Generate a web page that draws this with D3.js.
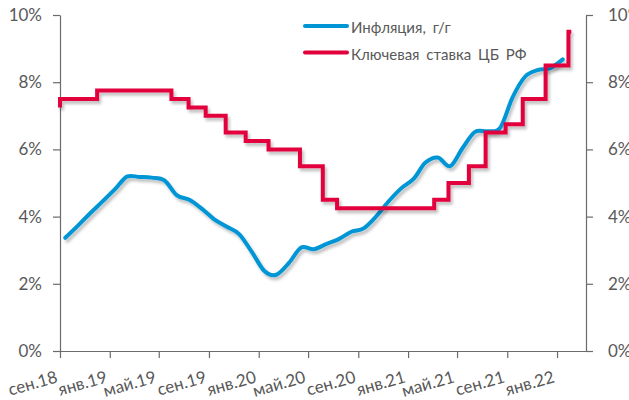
<!DOCTYPE html>
<html>
<head>
<meta charset="utf-8">
<script src="https://cdn.jsdelivr.net/npm/d3@7"></script>
<style>
  html, body { margin: 0; padding: 0; background: #fff; }
  svg { display: block; }
  text { font-family: Lato, "Open Sans", "Noto Sans", sans-serif; fill: #595959; }
</style>
</head>
<body>
<svg id="chart" width="629" height="400"></svg>
<script>
// Key rate of the Bank of Russia: decision dates and new rate, %
const rateDates = ["2018-09-17", "2018-09-17", "2018-12-17", "2019-06-17", "2019-07-29", "2019-09-09",
  "2019-10-28", "2019-12-16", "2020-02-10", "2020-04-27", "2020-06-22", "2020-07-27", "2021-03-22",
  "2021-04-26", "2021-06-15", "2021-07-26", "2021-09-13", "2021-10-25", "2021-12-20", "2022-02-14",
  "2022-02-21"];
const rateValues = [7.25, 7.5, 7.75, 7.5, 7.25, 7.0, 6.5, 6.25, 6.0, 5.5, 4.5, 4.25, 4.5,
  5.0, 5.5, 6.5, 6.75, 7.5, 8.5, 9.5, 9.5];

// Consumer inflation, % y/y, monthly (end of month)
const inflationMonths = ["2018-09", "2018-10", "2018-11", "2018-12",
  "2019-01", "2019-02", "2019-03", "2019-04", "2019-05", "2019-06", "2019-07", "2019-08", "2019-09", "2019-10", "2019-11", "2019-12",
  "2020-01", "2020-02", "2020-03", "2020-04", "2020-05", "2020-06", "2020-07", "2020-08", "2020-09", "2020-10", "2020-11", "2020-12",
  "2021-01", "2021-02", "2021-03", "2021-04", "2021-05", "2021-06", "2021-07", "2021-08", "2021-09", "2021-10", "2021-11", "2021-12",
  "2022-01"];
const inflationValues = [3.37, 3.73, 4.10, 4.46,
  4.83, 5.19, 5.18, 5.16, 5.08, 4.64, 4.50, 4.23, 3.92, 3.70, 3.48, 2.95,
  2.38, 2.27, 2.62, 3.08, 3.03, 3.18, 3.33, 3.55, 3.65, 4.01, 4.45, 4.84,
  5.13, 5.60, 5.76, 5.50, 6.05, 6.52, 6.54, 6.65, 7.55, 8.17, 8.36, 8.42,
  8.68];

// Axis ticks
const xTickDates = ["2018-09-17", "2019-01-17", "2019-05-17", "2019-09-17", "2020-01-17", "2020-05-17",
  "2020-09-17", "2021-01-17", "2021-05-17", "2021-09-17", "2022-01-17"];
const xTickLabels = ["сен.18", "янв.19", "май.19", "сен.19", "янв.20", "май.20",
  "сен.20", "янв.21", "май.21", "сен.21", "янв.22"];
const yTicks = [0, 2, 4, 6, 8, 10];

const seriesNames = ["Инфляция, г/г", "Ключевая ставка ЦБ РФ"];
const colors = { inflation: "#0096D6", rate: "#E2003C" };

const parseDay = d3.timeParse("%Y-%m-%d");
const parseMonth = d3.timeParse("%Y-%m");
const monthEnd = m => d3.timeDay.offset(d3.timeMonth.offset(parseMonth(m), 1), -1);

const svg = d3.select("#chart");
const plot = { left: 60, right: 586, top: 15, bottom: 351 };

const x = d3.scaleTime()
  .domain([parseDay("2018-09-17"), parseDay("2022-03-29")])
  .range([plot.left, plot.right]);
const yL = d3.scaleLinear().domain([0, 10]).range([plot.bottom, plot.top]);
const yR = d3.scaleLinear().domain([0, 10]).range([plot.bottom, plot.top]);

// soft drop shadow under the lines
const defs = svg.append("defs");
const f = defs.append("filter").attr("id", "shadow")
  .attr("filterUnits", "userSpaceOnUse")
  .attr("x", 0).attr("y", 0).attr("width", 629).attr("height", 400);
f.append("feGaussianBlur").attr("in", "SourceAlpha").attr("stdDeviation", 1.6).attr("result", "b");
f.append("feOffset").attr("in", "b").attr("dx", 2).attr("dy", 3).attr("result", "o");
const ct = f.append("feComponentTransfer").attr("in", "o").attr("result", "s");
ct.append("feFuncA").attr("type", "linear").attr("slope", 0.25);
const fm = f.append("feMerge");
fm.append("feMergeNode").attr("in", "s");
fm.append("feMergeNode").attr("in", "SourceGraphic");

const fmtPct = d => d + "%";

// left axis
const gL = svg.append("g").attr("transform", `translate(${plot.left},0)`)
  .call(d3.axisLeft(yL).tickValues(yTicks).tickFormat(fmtPct).tickSize(7).tickSizeOuter(0).tickPadding(11));
// right axis
const gR = svg.append("g").attr("transform", `translate(${plot.right},0)`)
  .call(d3.axisRight(yR).tickValues(yTicks).tickFormat(fmtPct).tickSize(7).tickSizeOuter(0).tickPadding(15));
// bottom axis
const gB = svg.append("g").attr("transform", `translate(0,${plot.bottom})`)
  .call(d3.axisBottom(x).tickValues(xTickDates.map(parseDay))
    .tickFormat((d, i) => xTickLabels[i]).tickSize(7).tickSizeOuter(0));

[gL, gR, gB].forEach(g => {
  g.select(".domain").attr("stroke", "#6b6b6b").attr("stroke-width", 1.2);
  g.selectAll(".tick line").attr("stroke", "#6b6b6b").attr("stroke-width", 1.2);
  g.selectAll("text").attr("font-size", 17).attr("fill", "#595959")
    .style("font-family", "Lato, 'Open Sans', sans-serif");
});

gB.selectAll(".tick text")
  .attr("text-anchor", "end")
  .attr("dy", 0)
  .attr("y", 0)
  .attr("transform", "translate(-2,31) rotate(-16)");

// inflation line
const inflData = inflationMonths.map((m, i) => ({ date: monthEnd(m), value: inflationValues[i] }));
const lineInfl = d3.line()
  .x(d => x(d.date)).y(d => yR(d.value))
  .curve(d3.curveCardinal.tension(0));
svg.append("path").datum(inflData)
  .attr("d", lineInfl)
  .attr("fill", "none").attr("stroke", colors.inflation).attr("stroke-width", 4)
  .attr("stroke-linecap", "round").attr("stroke-linejoin", "round")
  .attr("filter", "url(#shadow)");

// key rate step line
const rateData = rateDates.map((d, i) => ({ date: parseDay(d), value: rateValues[i] }));
const lineRate = d3.line()
  .x(d => x(d.date)).y(d => yL(d.value))
  .curve(d3.curveStepAfter);
svg.append("path").datum(rateData)
  .attr("d", lineRate)
  .attr("fill", "none").attr("stroke", colors.rate).attr("stroke-width", 4)
  .attr("stroke-linecap", "butt").attr("stroke-linejoin", "miter")
  .attr("filter", "url(#shadow)");

// legend
const legend = svg.append("g").attr("transform", "translate(305,0)");
const legendItems = [
  { name: seriesNames[0], color: colors.inflation, y: 26 },
  { name: seriesNames[1], color: colors.rate, y: 52.5 }
];
legendItems.forEach(it => {
  legend.append("line").attr("x1", 0).attr("x2", 42).attr("y1", it.y).attr("y2", it.y)
    .attr("stroke", it.color).attr("stroke-width", 4).attr("stroke-linecap", "round");
  legend.append("text").attr("x", 46).attr("y", it.y + 7)
    .attr("font-size", 15).attr("word-spacing", 3).text(it.name);
});
</script>
</body>
</html>
